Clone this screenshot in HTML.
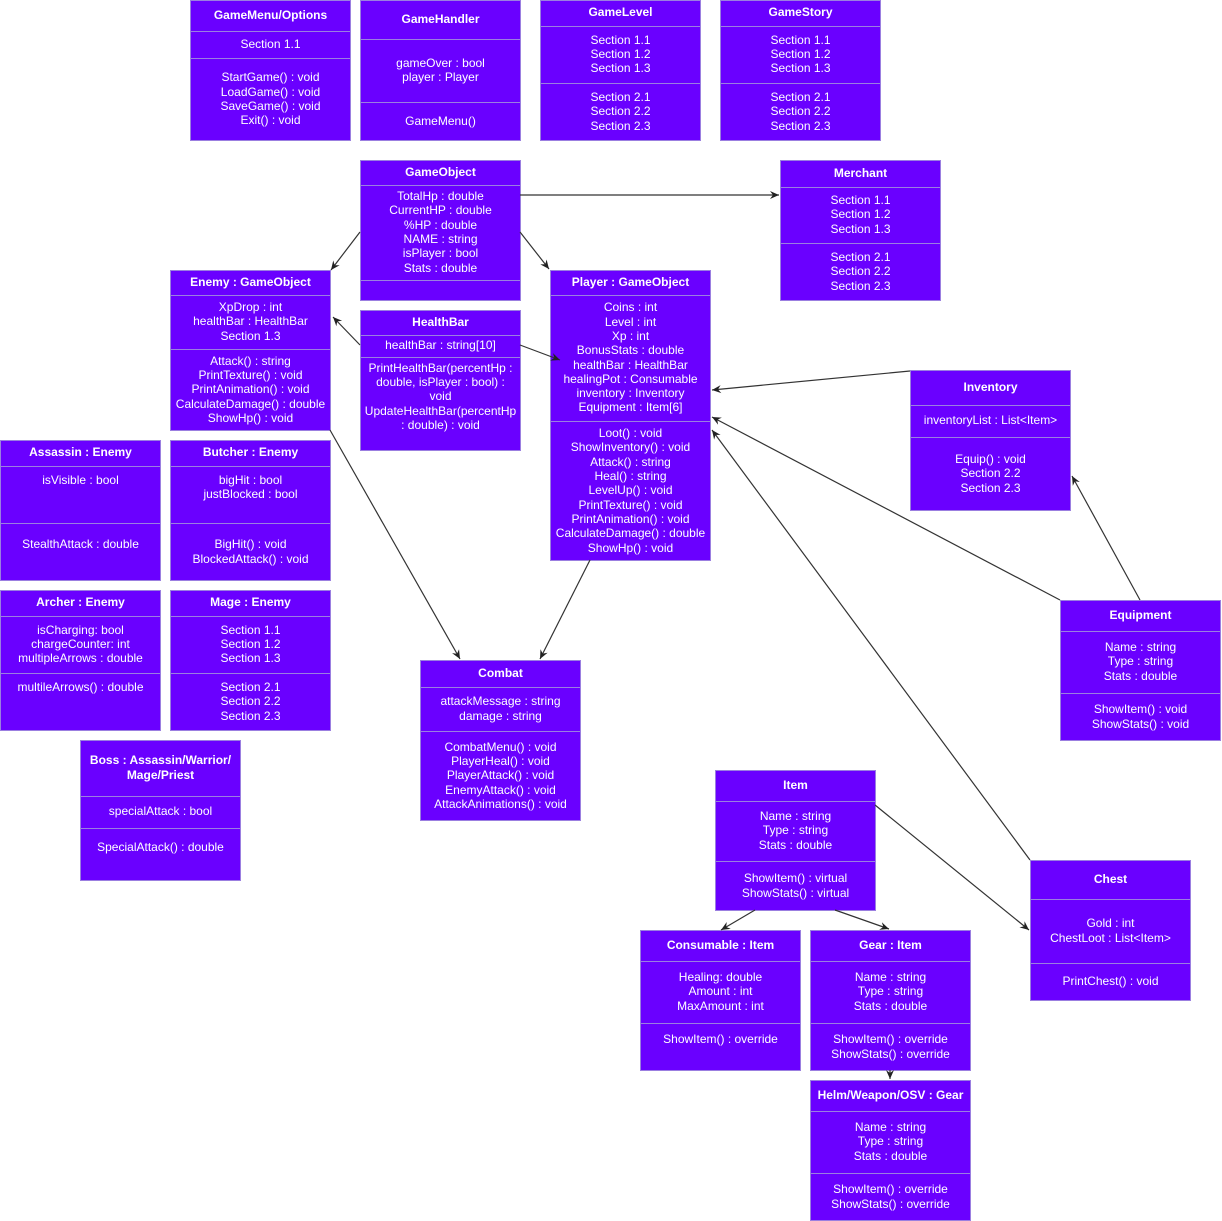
<!DOCTYPE html>
<html><head><meta charset="utf-8"><style>
body{margin:0;width:1222px;height:1221px;background:#fff;position:relative;overflow:hidden;font-family:"Liberation Sans",Arial,sans-serif;}
.b{position:absolute;background:#6a00ff;border:1px solid #9b7fe0;box-sizing:border-box;color:#fff;font-size:12px;line-height:14.3px;text-align:center;}
.s{position:absolute;left:0;right:0;display:flex;align-items:center;justify-content:center;border-top:1px solid #9b7fe0;box-sizing:border-box;padding:0 0 2px 0;white-space:nowrap;}
.s.t{border-top:none;font-weight:bold;}
svg{position:absolute;left:0;top:0;}
</style></head><body>
<div id="root"></div>
<svg width="1222" height="1221" style="z-index:5">
<defs><marker id="a" markerWidth="10" markerHeight="10" refX="9" refY="5" orient="auto" markerUnits="userSpaceOnUse"><path d="M0,1 L9,5 L0,9 L3,5 z" fill="#222"/></marker></defs>
<g stroke="#333" stroke-width="1.2" fill="none" marker-end="url(#a)">
<line x1="360" y1="232" x2="331" y2="270"/>
<line x1="520" y1="232" x2="549" y2="269"/>
<line x1="520" y1="195" x2="779" y2="195"/>
<line x1="360" y1="345" x2="333" y2="317"/>
<line x1="520" y1="345" x2="560" y2="360"/>
<line x1="910" y1="371" x2="712" y2="390"/>
<line x1="1140" y1="600" x2="1072" y2="476"/>
<line x1="1060" y1="600" x2="712" y2="417"/>
<line x1="1030" y1="860" x2="712" y2="430"/>
<line x1="875" y1="805" x2="1029" y2="930"/>
<line x1="330" y1="430" x2="460" y2="659"/>
<line x1="590" y1="560" x2="540" y2="659"/>
<line x1="755" y1="910" x2="721" y2="930"/>
<line x1="835" y1="910" x2="889" y2="929"/>
<line x1="890" y1="1070" x2="890" y2="1079"/>
</g></svg>
<script>
const B=[
[190,0,160,140,[30,57],["GameMenu/Options","Section 1.1","StartGame() : void<br>LoadGame() : void<br>SaveGame() : void<br>Exit() : void"]],
[360,0,160,140,[38,101],["GameHandler","gameOver : bool<br>player : Player","GameMenu()"]],
[540,0,160,140,[25,82],["GameLevel","Section 1.1<br>Section 1.2<br>Section 1.3","Section 2.1<br>Section 2.2<br>Section 2.3"]],
[720,0,160,140,[25,82],["GameStory","Section 1.1<br>Section 1.2<br>Section 1.3","Section 2.1<br>Section 2.2<br>Section 2.3"]],
[360,160,160,140,[24,119],["GameObject","TotalHp : double<br>CurrentHP : double<br>%HP : double<br>NAME : string<br>isPlayer : bool<br>Stats : double",""]],
[780,160,160,140,[26,82],["Merchant","Section 1.1<br>Section 1.2<br>Section 1.3","Section 2.1<br>Section 2.2<br>Section 2.3"]],
[170,270,160,160,[24,78],["Enemy : GameObject","XpDrop : int<br>healthBar : HealthBar<br>Section 1.3","Attack() : string<br>PrintTexture() : void<br>PrintAnimation() : void<br>CalculateDamage() : double<br>ShowHp() : void"]],
[360,310,160,140,[24,46],["HealthBar","healthBar : string[10]","PrintHealthBar(percentHp :<br>double, isPlayer : bool) :<br>void<br>UpdateHealthBar(percentHp<br>: double) : void<br>&nbsp;"]],
[550,270,160,290,[24,150],["Player : GameObject","Coins : int<br>Level : int<br>Xp : int<br>BonusStats : double<br>healthBar : HealthBar<br>healingPot : Consumable<br>inventory : Inventory<br>Equipment : Item[6]","Loot() : void<br>ShowInventory() : void<br>Attack() : string<br>Heal() : string<br>LevelUp() : void<br>PrintTexture() : void<br>PrintAnimation() : void<br>CalculateDamage() : double<br>ShowHp() : void"]],
[910,370,160,140,[34,66],["Inventory","inventoryList : List&lt;Item&gt;","Equip() : void<br>Section 2.2<br>Section 2.3"]],
[0,440,160,140,[25,82],["Assassin : Enemy","isVisible : bool<br><br><br>","StealthAttack : double<br><br>"]],
[170,440,160,140,[25,82],["Butcher : Enemy","bigHit : bool<br>justBlocked : bool<br><br>","BigHit() : void<br>BlockedAttack() : void"]],
[0,590,160,140,[25,82],["Archer : Enemy","isCharging: bool<br>chargeCounter: int<br>multipleArrows : double","multileArrows() : double<br><br><br>"]],
[170,590,160,140,[25,82],["Mage : Enemy","Section 1.1<br>Section 1.2<br>Section 1.3","Section 2.1<br>Section 2.2<br>Section 2.3"]],
[80,740,160,140,[55,87],["Boss : Assassin/Warrior/<br>Mage/Priest","specialAttack : bool","SpecialAttack() : double<br><br>"]],
[420,660,160,160,[26,70],["Combat","attackMessage : string<br>damage : string","CombatMenu() : void<br>PlayerHeal() : void<br>PlayerAttack() : void<br>EnemyAttack() : void<br>AttackAnimations() : void"]],
[1060,600,160,140,[30,92],["Equipment","Name : string<br>Type : string<br>Stats : double","ShowItem() : void<br>ShowStats() : void"]],
[715,770,160,140,[30,90],["Item","Name : string<br>Type : string<br>Stats : double","ShowItem() : virtual<br>ShowStats() : virtual"]],
[1030,860,160,140,[38,102],["Chest","Gold : int<br>ChestLoot : List&lt;Item&gt;","PrintChest() : void"]],
[640,930,160,140,[30,92],["Consumable : Item","Healing: double<br>Amount : int<br>MaxAmount : int","ShowItem() : override<br><br>"]],
[810,930,160,140,[30,92],["Gear : Item","Name : string<br>Type : string<br>Stats : double","ShowItem() : override<br>ShowStats() : override"]],
[810,1080,160,140,[30,92],["Helm/Weapon/OSV : Gear","Name : string<br>Type : string<br>Stats : double","ShowItem() : override<br>ShowStats() : override"]]
];
let h='';
for(const [x,y,w,hh,d,t] of B){
 const ys=[0,d[0],d[1],hh];
 h+=`<div class="b" style="left:${x}px;top:${y}px;width:${w+1}px;height:${hh+1}px">`;
 for(let i=0;i<3;i++)h+=`<div class="s${i==0?' t':''}" style="top:${ys[i]}px;height:${ys[i+1]-ys[i]}px">${t[i]}</div>`;
 h+='</div>';
}
document.getElementById('root').innerHTML=h;
</script>
</body></html>
